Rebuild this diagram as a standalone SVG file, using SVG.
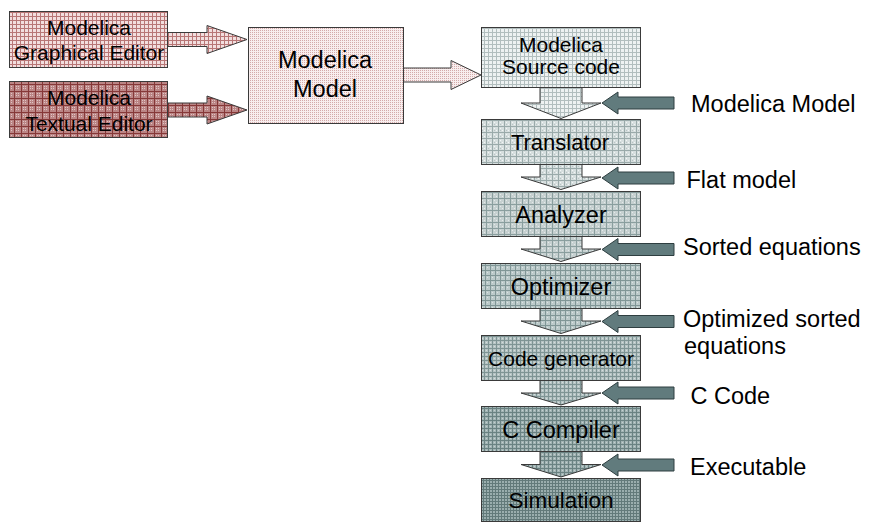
<svg xmlns="http://www.w3.org/2000/svg" width="869" height="523" viewBox="0 0 869 523">
<style>
text{font-family:"Liberation Sans",Arial,sans-serif;fill:#000}
.c{text-anchor:middle}
.lbl{font-size:23.5px}
.box{stroke:#3a3a3a;stroke-width:1}
.arr{stroke:#3a3a3a;stroke-width:1;stroke-linejoin:miter}
.gray{fill:#617b7d;stroke:#2e3e40;stroke-width:1}
</style>
<defs>
<pattern id="pGE" width="4" height="4" patternUnits="userSpaceOnUse"><rect width="4" height="4" fill="#f2dede"/><rect width="4" height="1" fill="#b87676"/><rect width="1" height="4" fill="#b87676"/></pattern>
<pattern id="pTE" width="7" height="7" patternUnits="userSpaceOnUse"><rect width="7" height="7" fill="#bb8585"/><rect x="2" y="2" width="1" height="1" fill="#e0c4c4"/><rect x="4" y="4" width="1" height="1" fill="#e0c4c4"/><rect x="2" y="4" width="1" height="1" fill="#e0c4c4"/><rect x="4" y="2" width="1" height="1" fill="#e0c4c4"/><rect width="7" height="1" fill="#863838"/><rect width="1" height="7" fill="#863838"/></pattern>
<pattern id="pMM" width="2" height="2" patternUnits="userSpaceOnUse"><rect width="2" height="2" fill="#f8eeee"/><rect width="1" height="1" fill="#d4aaaa"/></pattern>
<pattern id="pSrc" width="4" height="4" patternUnits="userSpaceOnUse"><rect width="4" height="4" fill="#eef2f2"/><rect width="4" height="1" fill="#b2bebe"/><rect width="1" height="4" fill="#b2bebe"/></pattern>
<pattern id="pTr" width="6" height="6" patternUnits="userSpaceOnUse"><rect width="6" height="6" fill="#d6dede"/><rect x="2" y="2" width="1" height="1" fill="#f2f6f6"/><rect x="4" y="4" width="1" height="1" fill="#f2f6f6"/><rect x="2" y="4" width="1" height="1" fill="#b8c4c4"/><rect width="6" height="1" fill="#9aaaaa"/><rect width="1" height="6" fill="#9aaaaa"/></pattern>
<pattern id="pAn" width="6" height="6" patternUnits="userSpaceOnUse"><rect width="6" height="6" fill="#c6d0d0"/><rect x="2" y="2" width="1" height="1" fill="#e4eaea"/><rect x="4" y="4" width="1" height="1" fill="#e4eaea"/><rect width="6" height="1" fill="#8a9e9e"/><rect width="1" height="6" fill="#8a9e9e"/></pattern>
<pattern id="pOp" width="5" height="5" patternUnits="userSpaceOnUse"><rect width="5" height="5" fill="#bccaca"/><rect x="2" y="2" width="1" height="1" fill="#dbe3e3"/><rect width="5" height="1" fill="#809696"/><rect width="1" height="5" fill="#809696"/></pattern>
<pattern id="pCg" width="4" height="4" patternUnits="userSpaceOnUse"><rect width="4" height="4" fill="#b6c4c4"/><rect x="2" y="2" width="1" height="1" fill="#d4dddd"/><rect width="4" height="1" fill="#7e9494"/><rect width="1" height="4" fill="#7e9494"/></pattern>
<pattern id="pCc" width="4" height="4" patternUnits="userSpaceOnUse"><rect width="4" height="4" fill="#a2b4b4"/><rect x="2" y="2" width="1" height="1" fill="#c4d0d0"/><rect width="4" height="1" fill="#6a8282"/><rect width="1" height="4" fill="#6a8282"/></pattern>
<pattern id="pSim" width="3" height="3" patternUnits="userSpaceOnUse"><rect width="3" height="3" fill="#9aaeae"/><rect width="3" height="1" fill="#627a7a"/><rect width="1" height="3" fill="#627a7a"/></pattern>
</defs>

<g id="connectors">
  <polygon class="arr" fill="url(#pGE)" points="166,32.5 207,32.5 207,25.5 247,39.5 207,53.5 207,46.5 166,46.5"/>
  <polygon class="arr" fill="url(#pTE)" points="166,103 207,103 207,96 247,110 207,124 207,117 166,117"/>
  <polygon class="arr" fill="url(#pMM)" points="402,68 451,68 451,60.5 481,75 451,89.5 451,82 402,82"/>
  <polygon class="arr" fill="url(#pSrc)" points="540,86 540,103 521,103 561,118.5 601,103 582,103 582,86"/>
  <polygon class="arr" fill="url(#pTr)" points="540,163 540,177 521,177 561,189.5 601,177 582,177 582,163"/>
  <polygon class="arr" fill="url(#pAn)" points="540,235 540,249 521,249 561,261.5 601,249 582,249 582,235"/>
  <polygon class="arr" fill="url(#pOp)" points="540,307 540,321 521,321 561,333.5 601,321 582,321 582,307"/>
  <polygon class="arr" fill="url(#pCg)" points="540,379 540,393 521,393 561,405 601,393 582,393 582,379"/>
  <polygon class="arr" fill="url(#pCc)" points="540,450 540,464.5 521,464.5 561,477 601,464.5 582,464.5 582,450"/>
  <g id="in-modelica-model"><polygon class="gray" points="674,97 618,97 618,92 602,103 618,114 618,109 674,109"/><text class="lbl" x="691" y="112.3">Modelica Model</text></g>
  <g id="in-flat-model"><polygon class="gray" points="674,172 618,172 618,167 602,178 618,189 618,184 674,184"/><text class="lbl" x="686.5" y="187.7">Flat model</text></g>
  <g id="in-sorted"><polygon class="gray" points="674,243.5 618,243.5 618,238.5 602,249.5 618,260.5 618,255.5 674,255.5"/><text class="lbl" x="683" y="255">Sorted equations</text></g>
  <g id="in-optimized"><polygon class="gray" points="674,315.5 618,315.5 618,310.5 602,321.5 618,332.5 618,327.5 674,327.5"/><text class="lbl" x="683" y="327.3">Optimized sorted</text><text class="lbl" x="684" y="354">equations</text></g>
  <g id="in-ccode"><polygon class="gray" points="674,387 618,387 618,382 602,393 618,404 618,399 674,399"/><text class="lbl" x="690.5" y="404.3">C Code</text></g>
  <g id="in-exe"><polygon class="gray" points="674,459 618,459 618,454 602,465 618,476 618,471 674,471"/><text class="lbl" x="690" y="475">Executable</text></g>
</g>

<g id="graphical-editor"><rect class="box" x="9.5" y="11.5" width="158" height="56" fill="url(#pGE)"/><text class="c" x="89" y="35" font-size="21">Modelica</text><text class="c" x="89" y="59.5" font-size="21">Graphical Editor</text></g>
<g id="textual-editor"><rect class="box" x="9.5" y="81.5" width="158" height="56" fill="url(#pTE)"/><text class="c" x="89" y="105" font-size="21">Modelica</text><text class="c" x="89" y="130.5" font-size="21">Textual Editor</text></g>
<g id="modelica-model"><rect class="box" x="248.5" y="27.5" width="155" height="96" fill="url(#pMM)"/><text class="c" x="325" y="68.3" font-size="23.5">Modelica</text><text class="c" x="325" y="96.7" font-size="23.5">Model</text></g>
<g id="source-code"><rect class="box" x="481.5" y="27.5" width="159" height="60" fill="url(#pSrc)"/><text class="c" x="561" y="52" font-size="21">Modelica</text><text class="c" x="561" y="74" font-size="21">Source code</text></g>
<g id="translator"><rect class="box" x="481.5" y="119.5" width="159" height="45" fill="url(#pTr)"/><text class="c" x="560" y="150" font-size="22">Translator</text></g>
<g id="analyzer"><rect class="box" x="481.5" y="191.5" width="159" height="45" fill="url(#pAn)"/><text class="c" x="561" y="223" font-size="23.5">Analyzer</text></g>
<g id="optimizer"><rect class="box" x="481.5" y="263.5" width="159" height="45" fill="url(#pOp)"/><text class="c" x="561" y="295" font-size="23.5">Optimizer</text></g>
<g id="code-generator"><rect class="box" x="481.5" y="335.5" width="159" height="45" fill="url(#pCg)"/><text class="c" x="561" y="366" font-size="21">Code generator</text></g>
<g id="c-compiler"><rect class="box" x="481.5" y="406.5" width="159" height="45" fill="url(#pCc)"/><text class="c" x="561" y="437.5" font-size="23.5">C Compiler</text></g>
<g id="simulation"><rect class="box" x="481.5" y="478.5" width="159" height="43" fill="url(#pSim)"/><text class="c" x="561" y="508" font-size="22.5">Simulation</text></g>
</svg>
